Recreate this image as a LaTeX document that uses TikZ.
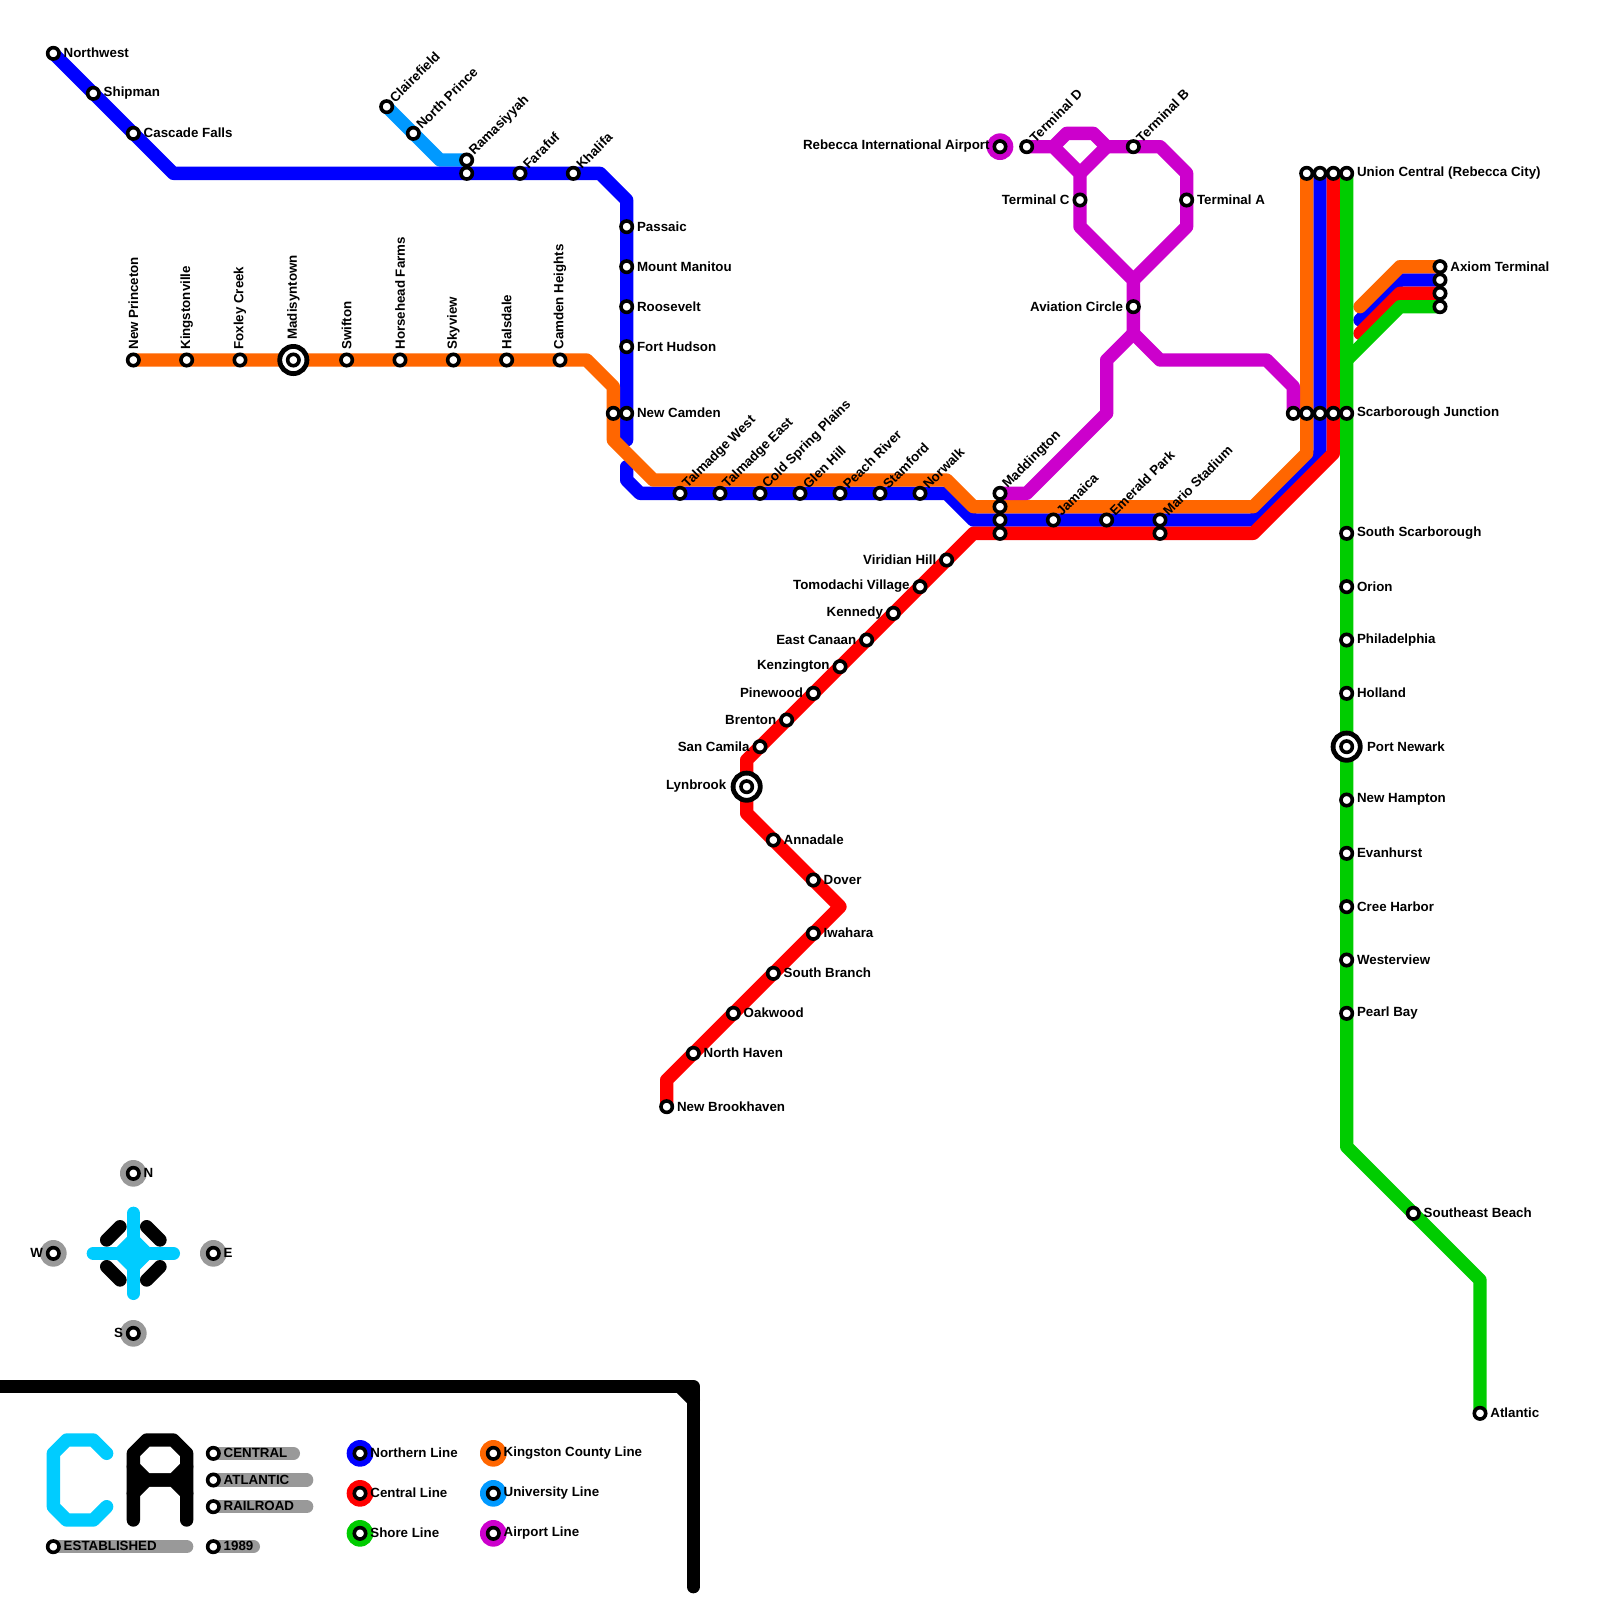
\documentclass[tikz,border=0pt]{standalone}
\usepackage{fontspec}
\setmainfont{Liberation Sans}
\definecolor{cB}{HTML}{0000FF}
\definecolor{cO}{HTML}{FF6600}
\definecolor{cR}{HTML}{FF0000}
\definecolor{cG}{HTML}{00CC00}
\definecolor{cU}{HTML}{0099FF}
\definecolor{cP}{HTML}{CC00CC}
\definecolor{cC}{HTML}{00CCFF}
\definecolor{cY}{HTML}{999999}
\tikzset{
 route/.style={line width=6.667pt,line cap=round,line join=round},
 st/.style={circle,draw=black,fill=white,line width=1.8pt,minimum size=5.7pt,inner sep=0pt},
 big/.style={circle,draw=black,fill=white,line width=2.4pt,minimum size=13.6pt,inner sep=0pt},
 disc/.style={circle,minimum size=13.33pt,inner sep=0pt},
 lbl/.style={inner sep=0pt,font=\fontsize{6.66pt}{7pt}\selectfont\bfseries,text=black},
 lE/.style={lbl,anchor=west,xshift=5pt,yshift=.2pt},
 lEE/.style={lbl,anchor=west,xshift=10pt,yshift=.2pt},
 lW/.style={lbl,anchor=east,xshift=-5pt,yshift=.2pt},
 lWW/.style={lbl,anchor=east,xshift=-10pt,yshift=.2pt},
 lN/.style={lbl,yshift=5pt,anchor=west,rotate=90},
 lNN/.style={lbl,yshift=10pt,anchor=west,rotate=90},
 lD/.style={lbl,xshift=2.5pt,yshift=3.3pt,anchor=west,rotate=45},
}
\begin{document}
\begin{tikzpicture}[x=6.6667pt,y=-6.6667pt]
\fill[white] (0,0) rectangle (120,120);
\useasboundingbox (0,0) rectangle (120,120);
% coordinates
\foreach \n/\x/\y in {
 nw/4/4,ship/7/7,casc/10/10,bA/13/13,rama/35/13,fara/39/13,khal/43/13,bB/45/13,bC/47/15,
 pass/47/17,mtm/47/20,roos/47/23,fthu/47/26,ncam/47/31,bD/47/33,bE/47/35,bF/47/36,bG/48/37,
 talw/51/37,tale/54/37,cold/57/37,glen/60/37,peach/63/37,stam/66/37,norw/69/37,bH/71/37,bI/73/39,
 madc/75/39,jama/79/39,emer/83/39,mars/87/39,bJ/94/39,bK/99/34,scb/99/31,unb/99/13,
 bL/102/24,bM/105/21,axb/108/21,
 npr/10/27,king/14/27,fox/18/27,mady/22/27,swif/26/27,hors/30/27,sky/34/27,hals/38/27,camh/42/27,
 oA/44/27,oB/46/29,onc/46/31,oC/46/33,oD/49/36,oE/71/36,oF/73/38,madb/75/38,oG/94/38,oH/98/34,
 sco/98/31,uno/98/13,oI/102/23,oJ/105/20,axa/108/20,
 nbr/50/83,rA/50/81,nhav/52/79,oak/55/76,sbra/58/73,iwa/61/70,rB/63/68,dov/61/66,ann/58/63,rC/56/61,
 lyn/56/59,rD/56/57,scam/57/56,bren/59/54,pine/61/52,kenz/63/50,ecan/65/48,kdy/67/46,tomo/69/44,viri/71/42,
 rE/73/40,madd/75/40,mart/87/40,rF/94/40,rG/100/34,scr/100/31,unr/100/13,rH/102/25,rI/105/22,axc/108/22,
 ung/101/13,gA/101/27,scg/101/31,ssc/101/40,ori/101/44,phi/101/48,hol/101/52,pnw/101/56,nham/101/60,
 eva/101/64,cree/101/68,west/101/72,pbay/101/76,gB/101/86,sbe/106/91,gC/111/96,atl/111/106,
 gD/105/23,axd/108/23,
 clai/29/8,npri/31/10,uA/33/12,ramu/35/12,
 reb/75/11,tD/77/11,pA/79/11,pB/81/13,tC/81/15,pC/81/17,pD/85/21,avi/85/23,pE/85/25,pF/87/27,pG/95/27,pH/97/29,scp/97/31,
 pI/80/10,pJ/82/10,pK/83/11,tB/85/11,pL/87/11,pM/89/13,tA/89/15,pN/89/17,
 pO/83/27,pP/83/31,pQ/77/37,mada/75/37,
 cn/10/88,cw/4/94,ce/16/94,cs/10/100,
 la/16/109,lb/16/111,lc/16/113,ld/4/116,le/16/116,
 lae/22/109,lbe/23/111,lce/23/113,lde/14/116,lee/19/116,
 kB/27/109,kR/27/112,kG/27/115,kO/37/109,kU/37/112,kP/37/115
 }{\coordinate (\n) at (\x,\y);}
% frame
\draw[route,black] (0,104) -- (52,104) -- (52,119);
\draw[route,black] (51,104) -- (52,105);
% compass
\draw[route,black] (8,93) -- (9,92);
\draw[route,black] (11,92) -- (12,93);
\draw[route,black] (8,95) -- (9,96);
\draw[route,black] (12,95) -- (11,96);
\draw[route,cC] (7,94) -- (13,94);
\draw[route,cC] (10,91) -- (10,97);
\draw[route,cC,fill=cC] (10,93) -- (11,94) -- (10,95) -- (9,94) -- cycle;
% logo
\draw[route,cC] (8,109) -- (7,108) -- (5,108) -- (4,109) -- (4,113) -- (5,114) -- (7,114) -- (8,113);
\draw[route,black] (10,114) -- (10,109) -- (11,108) -- (13,108) -- (14,109) -- (14,114);
\draw[route,black] (10,110) -- (11,111) -- (13,111) -- (14,110);
\draw[route,black] (10,112) -- (11,111) -- (13,111) -- (14,112);
% legend pills
\foreach \a/\b in {la/lae,lb/lbe,lc/lce,ld/lde,le/lee} \draw[route,cY] (\a) -- (\b);
% lines
\draw[route,cU] (clai) -- (npri) -- (uA) -- (ramu);
\draw[route,cB] (nw) -- (ship) -- (casc) -- (bA) -- (rama) -- (fara) -- (khal) -- (bB) -- (bC) -- (pass) -- (mtm) -- (roos) -- (fthu) -- (ncam) -- (bD);
\draw[route,cB] (bE) -- (bF) -- (bG) -- (talw) -- (tale) -- (cold) -- (glen) -- (peach) -- (stam) -- (norw) -- (bH) -- (bI) -- (madc) -- (jama) -- (emer) -- (mars) -- (bJ) -- (bK) -- (scb) -- (unb);
\draw[route,cB] (bL) -- (bM) -- (axb);
\draw[route,cR] (nbr) -- (rA) -- (nhav) -- (oak) -- (sbra) -- (iwa) -- (rB) -- (dov) -- (ann) -- (rC) -- (lyn) -- (rD) -- (scam) -- (bren) -- (pine) -- (kenz) -- (ecan) -- (kdy) -- (tomo) -- (viri) -- (rE) -- (madd) -- (mart) -- (rF) -- (rG) -- (scr) -- (unr);
\draw[route,cR] (rH) -- (rI) -- (axc);
\draw[route,cO] (npr) -- (king) -- (fox) -- (mady) -- (swif) -- (hors) -- (sky) -- (hals) -- (camh) -- (oA) -- (oB) -- (onc) -- (oC) -- (oD) -- (oE) -- (oF) -- (madb) -- (oG) -- (oH) -- (sco) -- (uno);
\draw[route,cO] (oI) -- (oJ) -- (axa);
\draw[route,cG] (ung) -- (gA) -- (scg) -- (ssc) -- (ori) -- (phi) -- (hol) -- (pnw) -- (nham) -- (eva) -- (cree) -- (west) -- (pbay) -- (gB) -- (sbe) -- (gC) -- (atl);
\draw[route,cG] (gA) -- (gD) -- (axd);
\draw[route,cP] (tD) -- (pA) -- (pB) -- (tC) -- (pC) -- (pD) -- (avi) -- (pE) -- (pF) -- (pG) -- (pH) -- (scp);
\draw[route,cP] (pA) -- (pI) -- (pJ) -- (pK) -- (tB) -- (pL) -- (pM) -- (tA) -- (pN) -- (pD);
\draw[route,cP] (pK) -- (pB);
\draw[route,cP] (pE) -- (pO) -- (pP) -- (pQ) -- (mada);
% discs
\node[disc,fill=cP] (dreb) at (reb) {};
\foreach \n in {cn,cw,ce,cs} \node[disc,fill=cY] (d\n) at (\n) {};
\foreach \n/\c in {kB/cB,kR/cR,kG/cG,kO/cO,kU/cU,kP/cP} \node[disc,fill=\c] (d\n) at (\n) {};
% interchanges
\foreach \n in {mady,lyn,pnw} \node[big] (b\n) at (\n) {};
% stations
\foreach \n in {nw,ship,casc,rama,fara,khal,pass,mtm,roos,fthu,ncam,talw,tale,cold,glen,peach,stam,norw,
 madc,jama,emer,mars,scb,unb,axb,npr,king,fox,mady,swif,hors,sky,hals,camh,onc,madb,sco,uno,axa,
 nbr,nhav,oak,sbra,iwa,dov,ann,lyn,scam,bren,pine,kenz,ecan,kdy,tomo,viri,madd,mart,scr,unr,axc,
 ung,scg,ssc,ori,phi,hol,pnw,nham,eva,cree,west,pbay,sbe,atl,axd,clai,npri,ramu,reb,tD,tC,tB,tA,avi,scp,mada,
 cn,cw,ce,cs,la,lb,lc,ld,le,kB,kR,kG,kO,kU,kP}
 \node[st] (s\n) at (\n) {};
% labels east
\foreach \n/\t in {nw/Northwest,ship/Shipman,casc/Cascade Falls,pass/Passaic,mtm/Mount Manitou,roos/Roosevelt,fthu/Fort Hudson,ncam/New Camden,
 ann/Annadale,dov/Dover,iwa/Iwahara,sbra/South Branch,oak/Oakwood,nhav/North Haven,nbr/New Brookhaven,
 ung/Union Central (Rebecca City),scg/Scarborough Junction,ssc/South Scarborough,ori/Orion,phi/Philadelphia,hol/Holland,nham/New Hampton,
 eva/Evanhurst,cree/Cree Harbor,west/Westerview,pbay/Pearl Bay,sbe/Southeast Beach,atl/Atlantic,tA/Terminal A,axa/Axiom Terminal,
 cn/N,ce/E,la/CENTRAL,lb/ATLANTIC,lc/RAILROAD,ld/ESTABLISHED,le/1989,
 kB/Northern Line,kR/Central Line,kG/Shore Line,kO/Kingston County Line,kU/University Line,kP/Airport Line}
 \node[lE] (t\n) at (\n) {\t};
\node[lEE] (tpnw) at (pnw) {Port Newark};
\node[lWW] (tlyn) at (lyn) {Lynbrook};
% labels west
\foreach \n/\t in {reb/Rebecca International Airport,tC/Terminal C,avi/Aviation Circle,viri/Viridian Hill,tomo/Tomodachi Village,kdy/Kennedy,
 ecan/East Canaan,kenz/Kenzington,pine/Pinewood,bren/Brenton,scam/San Camila,cw/W,cs/S}
 \node[lW] (t\n) at (\n) {\t};
% labels up
\foreach \n/\t in {npr/New Princeton,king/Kingstonville,fox/Foxley Creek,swif/Swifton,hors/Horsehead Farms,sky/Skyview,hals/Halsdale,camh/Camden Heights}
 \node[lN] (t\n) at (\n) {\t};
\node[lNN] (tmady) at (mady) {Madisyntown};
% labels diagonal
\foreach \n/\t in {clai/Clairefield,npri/North Prince,ramu/Ramasiyyah,fara/Farafuf,khal/Khalifa,talw/Talmadge West,tale/Talmadge East,
 cold/Cold Spring Plains,glen/Glen Hill,peach/Peach River,stam/Stamford,norw/Norwalk,mada/Maddington,jama/Jamaica,emer/Emerald Park,mars/Mario Stadium,
 tD/Terminal D,tB/Terminal B}
 \node[lD] (t\n) at (\n) {\t};
\end{tikzpicture}
\end{document}
